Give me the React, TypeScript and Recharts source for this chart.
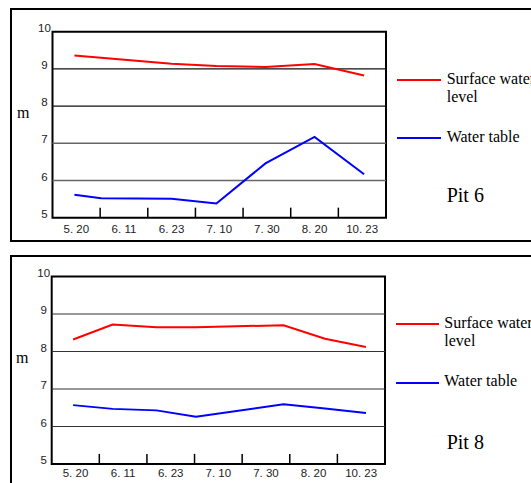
import React from 'react';
import { Line, LineChart, ReferenceArea, ReferenceLine, XAxis, YAxis } from 'recharts';

const DATES = ['5. 20', '6. 11', '6. 23', '7. 10', '7. 30', '8. 20', '10. 23'];
const Y_TICKS = [5, 6, 7, 8, 9, 10];
const GRID_Y = [6, 7, 8, 9];

// position of each reading along the date axis (0 = 5.20, 1 = 6.11, ...)
const PIT6_POS = [-0.04, 0.52, 2, 2.94, 3.97, 5, 6.04];
const PIT6_SURFACE = [9.36, 9.3, 9.14, 9.08, 9.05, 9.13, 8.82];
const PIT6_TABLE = [5.62, 5.52, 5.51, 5.38, 6.46, 7.17, 6.17];

const PIT8_POS = [-0.05, 0.78, 1.7, 2.53, 4.37, 5.24, 6.1];
const PIT8_SURFACE = [8.32, 8.72, 8.65, 8.65, 8.7, 8.34, 8.12];
const PIT8_TABLE = [6.57, 6.47, 6.43, 6.26, 6.59, 6.48, 6.36];

const LABEL_TICKS = DATES.map((_, i) => i);
const MARK_TICKS = DATES.slice(1).map((_, i) => i + 0.5);
const MARK_LEN = 0.27; // inner tick length, in metres

const SANS = '"Liberation Sans", Arial, sans-serif';
const SERIF = '"Liberation Serif", "Times New Roman", serif';
const RED = '#ff0000';
const BLUE = '#0000ff';

const XTick = (props: any) => {
  const { x, y, payload } = props;
  return (
    <text x={x} y={y} dy="0.35em" textAnchor="middle" fontSize={11.5} fontFamily={SANS} fill="#222">
      {DATES[payload.value]}
    </text>
  );
};

const YTick = (props: any) => {
  const { x, y, payload } = props;
  return (
    <text x={x} y={y - 4} dy="0.35em" textAnchor="middle" fontSize={11.5} fontFamily={SANS} fill="#222">
      {payload.value}
    </text>
  );
};

interface PanelProps {
  top: number;
  height: number;
  margin: { top: number; right: number; bottom: number; left: number };
  pos: number[];
  surface: number[];
  table: number[];
  gridColors: string[];
  gridWidths: number[];
  labelGap: number;
}

const Panel = ({ top, height, margin, pos, surface, table, gridColors, gridWidths, labelGap }: PanelProps) => {
  const data = pos.map((x, i) => ({ x, surface: surface[i], table: table[i] }));
  return (
    <div style={{ position: 'absolute', left: 0, top }}>
      <LineChart
        width={531}
        height={height}
        data={data}
        margin={{ top: margin.top, right: margin.right, bottom: 0, left: 0 }}
      >
        <XAxis
          dataKey="x"
          type="number"
          domain={[-0.5, 6.5]}
          ticks={LABEL_TICKS}
          interval={0}
          height={margin.bottom}
          axisLine={false}
          tickLine={false}
          tickSize={0}
          tickMargin={labelGap}
          tick={XTick}
          allowDataOverflow
        />
        <YAxis
          type="number"
          domain={[5, 10]}
          ticks={Y_TICKS}
          interval={0}
          width={margin.left}
          axisLine={false}
          tickLine={false}
          tickSize={0}
          tickMargin={8}
          tick={YTick}
        />
        {GRID_Y.map((v, i) => (
          <ReferenceLine key={v} y={v} stroke={gridColors[i]} strokeWidth={gridWidths[i]} />
        ))}
        {MARK_TICKS.map((m) => (
          <ReferenceLine
            key={m}
            segment={[
              { x: m, y: 5 },
              { x: m, y: 5 + MARK_LEN },
            ]}
            stroke="#000"
            strokeWidth={1.5}
          />
        ))}
        <ReferenceArea x1={-0.5} x2={6.5} y1={5} y2={10} fill="none" fillOpacity={0} stroke="#000" strokeWidth={2} />
        <Line type="linear" dataKey="surface" stroke={RED} strokeWidth={2} dot={false} isAnimationActive={false} />
        <Line type="linear" dataKey="table" stroke={BLUE} strokeWidth={2} dot={false} isAnimationActive={false} />
      </LineChart>
    </div>
  );
};

const txt = (left: number, top: number, size: number, children: React.ReactNode, lineHeight = 18) => (
  <div
    style={{
      position: 'absolute',
      left,
      top,
      fontFamily: SERIF,
      fontSize: size,
      lineHeight: `${lineHeight}px`,
      color: '#000',
      whiteSpace: 'nowrap',
    }}
  >
    {children}
  </div>
);

const swatch = (left: number, top: number, width: number, color: string) => (
  <div style={{ position: 'absolute', left, top, width, height: 2, background: color }} />
);

export default function App() {
  return (
    <div
      style={{
        position: 'fixed',
        left: 0,
        top: 0,
        width: 531,
        height: 483,
        background: '#fff',
        overflow: 'hidden',
      }}
    >
      {/* frames */}
      <div style={{ position: 'absolute', left: 10, top: 8, width: 600, height: 234, border: '2px solid #000', boxSizing: 'border-box' }} />
      <div style={{ position: 'absolute', left: 10, top: 255, width: 600, height: 300, border: '2px solid #000', boxSizing: 'border-box' }} />

      <Panel
        top={0}
        height={245}
        margin={{ top: 31.7, right: 145, bottom: 27.3, left: 52.5 }}
        pos={PIT6_POS}
        surface={PIT6_SURFACE}
        table={PIT6_TABLE}
        gridColors={['#666', '#666', '#111', '#111']}
        gridWidths={[1.5, 1.5, 1.2, 1.2]}
        labelGap={11}
      />
      <Panel
        top={245}
        height={238}
        margin={{ top: 31.5, right: 146, bottom: 19, left: 51.7 }}
        pos={PIT8_POS}
        surface={PIT8_SURFACE}
        table={PIT8_TABLE}
        gridColors={['#333', '#333', '#333', '#333']}
        gridWidths={[1.2, 1.2, 1.2, 1.2]}
        labelGap={9}
      />

      {/* axis unit */}
      {txt(17, 104, 16, 'm')}
      {txt(16, 349, 16, 'm')}

      {/* legend, pit 6 */}
      {swatch(397, 79, 44, RED)}
      {txt(446.7, 70.3, 16, <>Surface water<br />level</>)}
      {swatch(397, 137, 44, BLUE)}
      {txt(446.7, 128.3, 16, 'Water table')}
      {txt(446.7, 183, 20, 'Pit 6', 24)}

      {/* legend, pit 8 */}
      {swatch(396, 323, 43, RED)}
      {txt(444.3, 314.3, 16, <>Surface water<br />level</>)}
      {swatch(396, 382, 43, BLUE)}
      {txt(444.3, 372, 16, 'Water table')}
      {txt(446.7, 429.7, 20, 'Pit 8', 24)}
    </div>
  );
}
